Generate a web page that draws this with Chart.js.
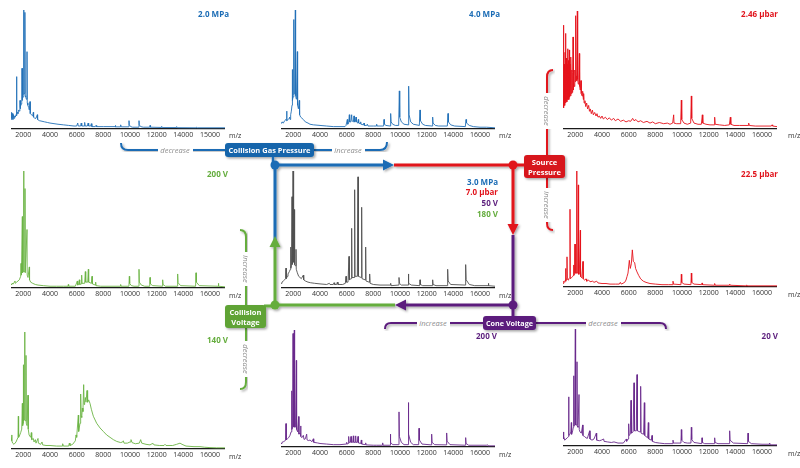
<!DOCTYPE html>
<html><head><meta charset="utf-8">
<script src="https://cdn.jsdelivr.net/npm/chart.js@4/dist/chart.umd.min.js"></script>
<style>
html,body{margin:0;padding:0;background:#fff;}
#root{position:relative;width:800px;height:468px;overflow:hidden;font-family:'Open Sans',sans-serif;}
.pn{position:absolute;}
.lbl{position:absolute;font-weight:bold;font-size:8px;white-space:nowrap;text-align:right;line-height:10px;}
.mz{position:absolute;font-size:7px;color:#333;line-height:8px;}
svg{position:absolute;left:0;top:0;pointer-events:none;}
</style></head>
<body><div id="root">
<div class="pn" id="w1"><canvas id="c1"></canvas></div>
<div class="pn" id="w2"><canvas id="c2"></canvas></div>
<div class="pn" id="w3"><canvas id="c3"></canvas></div>
<div class="pn" id="w4"><canvas id="c4"></canvas></div>
<div class="pn" id="w5"><canvas id="c5"></canvas></div>
<div class="pn" id="w6"><canvas id="c6"></canvas></div>
<div class="pn" id="w7"><canvas id="c7"></canvas></div>
<div class="pn" id="w8"><canvas id="c8"></canvas></div>
<div class="pn" id="w9"><canvas id="c9"></canvas></div>

<div class="lbl" style="right:571px;top:9px;color:#1b6cb5">2.0 MPa</div>
<div class="lbl" style="right:300px;top:9px;color:#1b6cb5">4.0 MPa</div>
<div class="lbl" style="right:22px;top:9px;color:#e1141c">2.46 µbar</div>
<div class="lbl" style="right:572px;top:169px;color:#65ad3e">200 V</div>
<div class="lbl" style="right:22px;top:169px;color:#e1141c">22.5 µbar</div>
<div class="lbl" style="right:302px;top:177px;color:#1b6cb5">3.0 MPa</div>
<div class="lbl" style="right:302px;top:187px;color:#e1141c">7.0 µbar</div>
<div class="lbl" style="right:302px;top:198px;color:#5c1f7d">50 V</div>
<div class="lbl" style="right:302px;top:209px;color:#65ad3e">180 V</div>
<div class="lbl" style="right:572px;top:335px;color:#65ad3e">140 V</div>
<div class="lbl" style="right:303px;top:331px;color:#5c1f7d">200 V</div>
<div class="lbl" style="right:22px;top:331px;color:#5c1f7d">20 V</div>

<div class="mz" style="left:229px;top:132px">m/z</div>
<div class="mz" style="left:499px;top:132px">m/z</div>
<div class="mz" style="left:788px;top:132px">m/z</div>
<div class="mz" style="left:229px;top:292px">m/z</div>
<div class="mz" style="left:499px;top:292px">m/z</div>
<div class="mz" style="left:788px;top:291px">m/z</div>
<div class="mz" style="left:229px;top:453px">m/z</div>
<div class="mz" style="left:499px;top:451px">m/z</div>
<div class="mz" style="left:788px;top:450px">m/z</div>

<svg width="800" height="468" viewBox="0 0 800 468">
<defs><filter id="sh" x="-20%" y="-20%" width="140%" height="140%"><feDropShadow dx="1.5" dy="1.5" stdDeviation="1.2" flood-color="#000" flood-opacity="0.35"/></filter></defs>
<g font-family="Open Sans, sans-serif" font-size="7.5" font-style="italic" fill="#8c8c8c" text-anchor="middle" dominant-baseline="central">
 <!-- blue bracket -->
 <g filter="url(#sh)" fill="none" stroke="#1b6cb5" stroke-width="2">
  <path d="M121 143 Q121 150 128 150 L226 150"/>
  <path d="M313 150 L380 150 Q387 150 387 142"/>
 </g>
 <rect x="158" y="145" width="35" height="10" fill="#fff"/><text x="175" y="150">decrease</text>
 <rect x="332" y="145" width="33" height="10" fill="#fff"/><text x="348" y="150">increase</text>
 <!-- red bracket -->
 <g filter="url(#sh)" fill="none" stroke="#e1141c" stroke-width="2">
  <path d="M553 70 Q547 70 547 77 L547 156"/>
  <path d="M547 177 L547 223 Q547 230 553 230"/>
 </g>
 <rect x="542" y="93" width="10" height="36" fill="#fff"/><text transform="translate(547,111) rotate(90)">decrease</text>
 <rect x="542" y="188" width="10" height="34" fill="#fff"/><text transform="translate(547,205) rotate(90)">increase</text>
 <!-- green bracket -->
 <g filter="url(#sh)" fill="none" stroke="#65ad3e" stroke-width="2">
  <path d="M240 230 Q246 230 246 237 L246 306"/>
  <path d="M246 327 L246 382 Q246 389 240 389"/>
 </g>
 <rect x="241" y="252" width="10" height="34" fill="#fff"/><text transform="translate(246,269) rotate(90)">increase</text>
 <rect x="241" y="341" width="10" height="36" fill="#fff"/><text transform="translate(246,359) rotate(90)">decrease</text>
 <!-- purple bracket -->
 <g filter="url(#sh)" fill="none" stroke="#5c1f7d" stroke-width="2">
  <path d="M385 329 Q385 323 391 323 L484 323"/>
  <path d="M535 323 L660 323 Q666 323 666 329"/>
 </g>
 <rect x="417" y="318" width="33" height="10" fill="#fff"/><text x="433" y="323">increase</text>
 <rect x="586" y="318" width="35" height="10" fill="#fff"/><text x="603" y="323">decrease</text>
</g>
<!-- main loop -->
<g filter="url(#sh)">
 <path d="M273 156 L273 165" stroke="#1b6cb5" stroke-width="2.5"/>
 <path d="M275 165 L386 165 M275 165 L275 240" stroke="#1b6cb5" stroke-width="3" fill="none"/>
 <polygon points="383,159.5 394,165 383,170.5" fill="#1b6cb5"/>
 <path d="M394 165 L513 165 L513 226 M513 165 L525 165" stroke="#e1141c" stroke-width="3" fill="none"/>
 <polygon points="507.5,224 513,235 518.5,224" fill="#e1141c"/>
 <path d="M513 235 L513 305 L405 305 M513 305 L513 317" stroke="#5c1f7d" stroke-width="3" fill="none"/>
 <polygon points="406,299.5 395,305 406,310.5" fill="#5c1f7d"/>
 <path d="M395 305 L275 305 L275 246 M264 306 L275 306" stroke="#65ad3e" stroke-width="3" fill="none"/>
 <polygon points="269.5,247 275,236 280.5,247" fill="#65ad3e"/>
 <circle cx="275" cy="165" r="4.5" fill="#1b6cb5"/>
 <circle cx="513" cy="165" r="4.5" fill="#e1141c"/>
 <circle cx="513" cy="305" r="4.5" fill="#5c1f7d"/>
 <circle cx="275" cy="305" r="4.5" fill="#65ad3e"/>
 <rect x="225" y="143" width="89" height="14" rx="3" fill="#1565ab"/>
 <rect x="524" y="155" width="41" height="23" rx="3" fill="#d7141d"/>
 <rect x="225" y="305" width="41" height="23" rx="3" fill="#5ea336"/>
 <rect x="483" y="316" width="53" height="14" rx="3" fill="#5c1f7d"/>
</g>
<g font-family="Open Sans, sans-serif" font-size="7.5" font-weight="bold" fill="#fff" text-anchor="middle" dominant-baseline="central">
 <text x="269.5" y="150" textLength="82" lengthAdjust="spacingAndGlyphs">Collision Gas Pressure</text>
 <text x="544.5" y="162">Source</text>
 <text x="544.5" y="172">Pressure</text>
 <text x="245.5" y="312">Collision</text>
 <text x="245.5" y="322">Voltage</text>
 <text x="509.5" y="323" textLength="47" lengthAdjust="spacingAndGlyphs">Cone Voltage</text>
</g>
</svg>
</div>
<script>
// m/z axis tick values and labels
const tickValues = [2000,4000,6000,8000,10000,12000,14000,16000];
const tickLabels = ["2000","4000","6000","8000","10000","12000","14000","16000"];
const tickLabelsTopLeft = ["2000","4000","6000","8000","10000","12000","14000","15000"];

// spectra: [m/z, relative intensity %]
const gas20 = [[1075,8],[1100,14],[1140,9],[1180,13],[1220,8],[1260,12],[1300,9],[1350,11],[1400,10],[1450,12],[1490,11],[1500,44],[1515,12],[1560,14],[1600,13],[1650,16],[1700,15],[1740,17],[1750,24],[1765,17],[1800,19],[1850,21],[1880,22],[1900,51],[1915,24],[1950,26],[1990,27],[2025,100],[2045,29],[2080,30],[2110,30],[2125,98],[2145,28],[2180,27],[2230,25],[2275,65],[2295,22],[2340,20],[2400,18],[2450,16],[2500,23],[2520,13],[2600,12],[2700,11],[2750,14],[2770,10],[2850,9],[2950,9],[3050,12],[3070,8],[3200,7],[3400,6.5],[3600,6],[3800,5.5],[4000,5],[4300,4.5],[4600,4],[5000,3.5],[5400,3],[5800,2.5],[6000,2.5],[6080,5],[6120,2.5],[6300,2.5],[6340,5],[6380,2.5],[6550,2.5],[6600,5.5],[6640,2.5],[6800,2.5],[6860,5],[6900,2.5],[7050,2.5],[7100,4.5],[7140,2],[7400,2],[7450,3],[7500,2],[8000,2],[8880,2],[8900,3],[8930,1.8],[9280,1.8],[9300,3.5],[9340,1.8],[9900,1.8],[9925,7],[9945,3.5],[10050,2],[10200,1.5],[10650,1.5],[10675,7],[10695,3.5],[10800,2],[11000,1.5],[11480,1.5],[11500,3],[11540,1.5],[12360,1.3],[12375,2.2],[12420,1.2],[13480,1.2],[13500,2],[13550,1.1],[14950,1],[15000,1.5],[15050,1],[17125,1]];

const gas40 = [[1075,5],[1150,6],[1250,5],[1350,7],[1450,8],[1500,15],[1520,7],[1600,8],[1700,9],[1725,10],[1750,8],[1800,12],[1850,15],[1900,20],[1925,50],[1940,24],[1980,27],[2025,92],[2045,29],[2100,30],[2150,100],[2170,28],[2230,25],[2300,65],[2320,20],[2380,17],[2450,24],[2470,12],[2550,10],[2650,9],[2750,8],[2900,6],[3100,5],[3250,4],[3500,3.5],[4000,3],[4500,2.5],[5000,2],[5500,2],[5875,2],[5950,3],[6050,8],[6080,4],[6150,5],[6200,12],[6230,6],[6320,6],[6375,12],[6400,7],[6500,6],[6550,11],[6580,6],[6650,6],[6700,10],[6730,6],[6820,5],[6875,8],[6900,5],[7000,4.5],[7050,6],[7080,4],[7250,3.5],[7300,5],[7330,3],[7500,3],[7550,4],[7600,2.5],[8000,2.5],[8230,2.5],[8250,4],[8280,2.5],[8770,2.5],[8800,8],[8830,4],[8950,3],[9250,2.5],[9300,13],[9330,6],[9450,4],[9650,3],[9900,3],[9950,32],[9980,10],[10100,6],[10300,4],[10600,3.5],[10650,36],[10680,12],[10800,6],[11000,4],[11450,3],[11500,16],[11530,7],[11700,4],[11900,3],[12400,2.5],[12450,10],[12480,5],[12650,3],[12900,2.5],[13550,2.5],[13600,13],[13630,6],[13800,3.5],[14100,2.5],[14900,2],[14950,8],[14990,5],[15200,3],[15500,2],[16000,1.5],[16500,1.5],[17125,1]];

const src246 = [[1075,22],[1100,60],[1125,88],[1140,18],[1170,55],[1200,20],[1230,65],[1260,22],[1275,81],[1295,24],[1330,60],[1360,23],[1400,55],[1425,68],[1445,25],[1480,58],[1510,25],[1550,67],[1570,27],[1610,55],[1640,28],[1675,61],[1700,30],[1740,50],[1770,31],[1800,48],[1825,78],[1845,33],[1880,45],[1920,36],[1960,50],[2000,40],[2025,96],[2050,42],[2090,45],[2120,41],[2150,100],[2175,42],[2220,38],[2260,44],[2300,64],[2325,36],[2370,33],[2425,41],[2445,30],[2500,28],[2550,32],[2600,25],[2625,30],[2660,22],[2720,24],[2780,19],[2850,22],[2920,17],[3000,20],[3060,15],[3120,17],[3200,13],[3280,16],[3350,12],[3450,14],[3550,11],[3625,13],[3700,10],[3800,11],[3900,9],[4000,11],[4100,8.5],[4250,10],[4400,8],[4550,9.5],[4700,7.5],[4875,9],[5000,7],[5200,8.5],[5400,6.5],[5600,7.5],[5800,6],[6000,7],[6150,6.5],[6300,9],[6400,7],[6550,8],[6700,6],[6900,7],[7100,5.5],[7375,6.5],[7600,5],[7800,6],[8000,4.5],[8300,5.5],[8625,4.5],[8900,5],[9100,4],[9300,5],[9375,12],[9400,5],[9600,4.5],[9900,4.5],[9950,24.5],[9980,8],[10150,5],[10400,4],[10650,5],[10700,28],[10730,9],[10900,5],[11200,4],[11450,4],[11525,12],[11560,5],[11800,4],[12100,3.5],[12400,3.5],[12450,10],[12490,4],[12800,3.5],[13200,3],[13550,3.5],[13625,10],[13660,4],[13900,3],[14300,3],[14950,3],[15000,5],[15050,3],[15500,2.5],[16000,2.5],[16700,2.5],[16750,3.5],[16800,2.5],[17125,2]];

const cv200 = [[1075,3],[1150,4],[1250,3.5],[1375,6],[1400,4],[1500,5],[1600,6],[1700,7],[1800,10],[1825,21],[1840,11],[1880,12],[1925,61],[1940,13],[1990,14],[2025,100],[2045,14],[2090,14],[2125,85],[2145,13],[2200,13],[2275,50],[2290,11],[2350,9],[2450,18],[2465,7],[2550,5],[2700,4],[2900,3],[3100,2.5],[3500,2],[4000,1.5],[4500,1.5],[5000,1.5],[5350,1.5],[5375,3],[5400,1.5],[5900,1.5],[6050,6],[6080,2.5],[6150,3],[6200,7],[6230,3],[6330,3.5],[6375,11],[6400,4],[6600,4],[6650,14],[6680,5],[6830,5],[6875,16],[6900,5],[7100,4],[7150,10],[7180,3.5],[7400,2.5],[7425,5],[7450,2],[7800,1.5],[8500,1.5],[9280,1.5],[9300,3],[9330,1.5],[9920,1.5],[9950,10],[9975,4],[10100,2],[10300,1.5],[10650,1.5],[10675,16],[10700,5],[10850,2.5],[11100,1.5],[11480,1.5],[11500,9],[11530,3.5],[11700,2],[12420,1.5],[12450,7],[12480,3],[12650,1.5],[13550,1.5],[13575,12],[13605,4.5],[13800,2],[14920,1.5],[14950,13],[14980,5],[15200,2],[16600,1.5],[16625,4],[16660,1.5],[17125,1]];

const reference = [[1075,4],[1150,5],[1250,6],[1350,7],[1420,8],[1450,17],[1470,8],[1550,10],[1600,12],[1700,14],[1780,16],[1800,35],[1820,17],[1860,19],[1900,78],[1920,20],[1950,21],[1975,100],[2000,22],[2040,22],[2075,67],[2095,20],[2150,19],[2200,33],[2220,16],[2300,13],[2400,10],[2500,9],[2600,8],[2750,11],[2780,7],[2900,6],[3100,5],[3300,4.5],[3600,4],[4000,3.5],[4500,3],[4700,4],[4750,3],[5000,3],[5050,4.5],[5100,3],[5250,3],[5300,5],[5350,3],[5700,3],[5900,4],[5950,10],[5980,5],[6100,5],[6175,27],[6200,7],[6330,8],[6375,51],[6400,9],[6550,9],[6600,84],[6625,10],[6800,10],[6850,95],[6875,10],[7080,9],[7125,69],[7150,8],[7380,7],[7425,35],[7450,6],[7680,5],[7725,12],[7760,4],[8000,3],[8500,2.5],[9280,2.5],[9300,4],[9330,2],[9900,2.5],[9925,9],[9960,4],[10100,2.5],[10600,2.5],[10625,12],[10660,4],[10850,2.5],[11480,2],[11500,7],[11530,3],[11700,2],[12420,2],[12450,7],[12480,3],[12700,2],[13550,2],[13575,16],[13610,6],[13800,3],[14900,2.5],[14925,20],[14960,7],[15200,3],[15600,2],[16600,2],[16625,4],[16660,2],[17125,1.5]];

const src225 = [[1075,3],[1125,5],[1200,4],[1250,6],[1275,16],[1290,5],[1340,7],[1375,26],[1395,7],[1450,6],[1500,7],[1580,8],[1600,67],[1620,7],[1700,8],[1800,9],[1850,10],[1875,19],[1895,10],[1950,11],[1975,37],[1990,12],[2050,12],[2100,100],[2120,12],[2180,12],[2225,88],[2245,11],[2300,11],[2375,49],[2390,9],[2480,8],[2575,22],[2590,7],[2700,6],[2800,7],[2850,5],[3000,6],[3100,4.5],[3300,5],[3400,4],[3600,5],[3700,3.5],[4000,3],[4300,3],[4600,2.5],[5000,2.5],[5300,2.5],[5375,4],[5450,2.5],[5700,4],[5800,6],[5875,9],[5950,12],[6050,23],[6120,16],[6200,20],[6275,32],[6350,22],[6450,21],[6520,16],[6625,13],[6750,10],[6900,7],[7100,5],[7300,4],[7600,3],[8000,2.5],[8500,2],[9000,2],[9300,2],[9325,5],[9360,2.5],[9920,2],[9950,11],[9980,4],[10150,2.5],[10670,2],[10700,12],[10730,4],[10900,2.5],[11480,2],[11500,3.5],[11540,2],[12430,1.5],[12450,3],[12490,1.5],[13550,1.5],[13575,2.5],[13620,1.5],[14800,1],[14850,1.8],[14900,1],[17125,1]];

const cv140 = [[1075,10],[1125,12],[1150,7],[1200,5],[1300,4],[1450,6],[1600,10],[1625,28],[1645,10],[1700,11],[1800,14],[1880,17],[1925,39],[1950,20],[1980,22],[2000,72],[2020,24],[2060,25],[2100,100],[2120,25],[2160,24],[2200,80],[2220,22],[2280,20],[2350,46],[2370,17],[2430,12],[2550,10],[2600,14],[2630,8],[2750,9],[2800,6],[2900,8],[2950,5],[3100,9],[3130,5],[3300,4],[3400,6],[3450,3.5],[3700,3],[4000,3],[4500,2.5],[4900,2.5],[4950,4.5],[5000,2.5],[5400,2.5],[5450,5],[5500,3],[5700,4],[5900,7],[5950,12],[6000,10],[6125,29],[6150,15],[6250,22],[6300,47],[6340,28],[6380,27],[6425,35],[6470,32],[6525,55],[6560,38],[6600,40],[6650,44],[6700,40],[6775,50],[6820,40],[6900,42],[7000,39],[7100,34],[7250,28],[7500,22],[7750,18],[8000,15],[8250,12],[8500,10],[8750,8],[9000,6.5],[9300,5.5],[9450,6],[9500,7],[9550,5],[9800,5],[10000,6],[10075,8],[10150,5.5],[10400,4.5],[10700,5],[10800,8],[10880,5],[11200,4],[11500,3.5],[11650,4.5],[11700,5],[11800,3.5],[12200,3],[12550,3],[12625,4],[12700,3],[13200,3],[13500,4],[13750,5],[13900,4],[14200,2.5],[14800,2],[15250,2],[15600,1.5],[16000,1.2],[16500,1],[17125,1]];

const cone200 = [[1075,3],[1150,4],[1250,4.5],[1350,5],[1420,6],[1450,20],[1470,6],[1550,7],[1650,8],[1750,10],[1830,13],[1875,48],[1895,15],[1940,16],[1975,97],[1995,17],[2040,18],[2075,100],[2095,17],[2160,17],[2225,74],[2245,15],[2320,13],[2400,26],[2420,11],[2500,12],[2550,18],[2570,9],[2650,8],[2750,10],[2800,6.5],[2900,7],[3000,11],[3030,6],[3150,5.5],[3250,6],[3400,4.5],[3500,7],[3530,4],[3800,3.5],[4000,3],[4500,2.5],[5000,2],[5500,2],[5950,2.5],[6000,4],[6050,2.5],[6120,3],[6150,9],[6180,4],[6280,4],[6325,9],[6350,4],[6450,4],[6500,9.5],[6530,4],[6630,4],[6675,9.5],[6700,4],[6800,4],[6850,9],[6880,3.5],[7050,3],[7100,6],[7130,2.5],[7380,2],[7425,3.5],[7460,1.8],[8000,1.5],[8250,1.5],[8680,1.5],[8700,3.5],[8730,1.5],[9250,1.5],[9275,11],[9305,4],[9450,2],[9900,2],[9925,30],[9955,9],[10100,4],[10300,2],[10600,2],[10625,38],[10655,11],[10800,4],[11000,2],[11400,2],[11425,16],[11455,6],[11650,2.5],[12350,1.8],[12375,11],[12405,4],[12600,2],[13470,1.8],[13500,12],[13530,5],[13750,2],[14900,1.5],[14925,8],[14955,3],[15150,1.5],[16500,1.5],[16550,2],[16600,1],[17125,1]];

const cone20 = [[1075,12],[1100,6],[1150,8],[1200,5],[1300,6],[1400,7],[1480,8],[1500,42],[1520,9],[1600,10],[1660,12],[1700,20],[1720,10],[1800,13],[1850,16],[1875,60],[1895,17],[1950,18],[2000,100],[2020,18],[2070,18],[2125,72],[2145,17],[2200,16],[2275,44],[2295,14],[2350,12],[2450,11],[2550,18],[2570,9],[2700,8],[2800,7],[2900,6.5],[3075,13],[3100,6],[3250,5],[3400,6],[3575,11],[3600,5],[3800,4.5],[3950,5],[4125,6],[4150,4],[4400,3.5],[4700,3],[4900,3.5],[5200,2.5],[5600,2.5],[5825,6],[5850,4],[5950,6],[6000,19],[6030,9],[6120,10],[6175,39],[6205,11],[6330,12],[6400,54],[6430,13],[6570,13],[6625,61],[6655,13],[6850,12],[6900,51],[6930,11],[7120,10],[7175,37],[7205,9],[7420,7],[7475,20],[7505,6],[7700,5],[7750,9],[7780,4],[8000,3],[8300,2.5],[8700,2],[9300,2],[9325,5],[9360,2.5],[9920,2.5],[9950,14],[9980,5],[10150,3],[10400,2.5],[10670,2.5],[10700,16],[10730,5.5],[10900,3],[11200,2.5],[11480,2],[11500,7],[11530,3],[11700,2],[12430,2],[12450,7],[12480,3],[12700,2],[13550,2],[13575,13],[13605,5],[13850,2.5],[14920,2],[14950,11],[14980,4],[15200,2],[16000,1.5],[16550,1.5],[16575,2.5],[16610,1],[17125,1]];

const panels = [
 {id:1, data:gas20, color:'#2270b8', box:[11,225,10,129], labels:tickLabelsTopLeft},
 {id:2, data:gas40, color:'#2270b8', box:[281,495,10,129], labels:tickLabels},
 {id:3, data:src246, color:'#e5121b', box:[563,777,11,129], labels:tickLabels},
 {id:4, data:cv200, color:'#6cb445', box:[11,225,171,288], labels:tickLabels},
 {id:5, data:reference, color:'#505050', box:[281,495,171,288], labels:tickLabels},
 {id:6, data:src225, color:'#e5121b', box:[563,777,171,287], labels:tickLabels},
 {id:7, data:cv140, color:'#6cb445', box:[11,225,332,449], labels:tickLabels},
 {id:8, data:cone200, color:'#6a2a8c', box:[281,495,330,447], labels:tickLabels},
 {id:9, data:cone20, color:'#6a2a8c', box:[563,777,329,446], labels:tickLabels}
];
const AXH = 14;
panels.forEach(p => {
  const [L,R,T,B] = p.box;
  const w = document.getElementById('w'+p.id);
  const c = document.getElementById('c'+p.id);
  w.style.left = L+'px'; w.style.top = T+'px';
  c.width = R-L; c.height = B-T+AXH;
  new Chart(c, {
    type:'line',
    data:{datasets:[{data:p.data.map(d=>({x:d[0],y:d[1]})), borderColor:p.color, borderWidth:0.9, pointRadius:0, tension:0, fill:false, clip:4}]},
    options:{
      responsive:false, animation:false, devicePixelRatio:1,
      layout:{padding:0},
      plugins:{legend:{display:false}, tooltip:{enabled:false}},
      scales:{
        x:{type:'linear', min:1075, max:17125,
           afterBuildTicks:s=>{s.ticks = tickValues.map(v=>({value:v}));},
           afterFit:s=>{s.height = AXH;},
           ticks:{autoSkip:false, maxRotation:0, padding:2, color:'#333', font:{size:7, family:'Open Sans'},
                  callback:(v)=>{const i = tickValues.indexOf(v); return i>=0 ? p.labels[i] : '';}},
           grid:{display:false, drawTicks:false},
           border:{display:true, color:'#1a1a1a', width:1.3}},
        y:{display:false, min:0, max:100}
      }
    }
  });
});
</script>
</body></html>
